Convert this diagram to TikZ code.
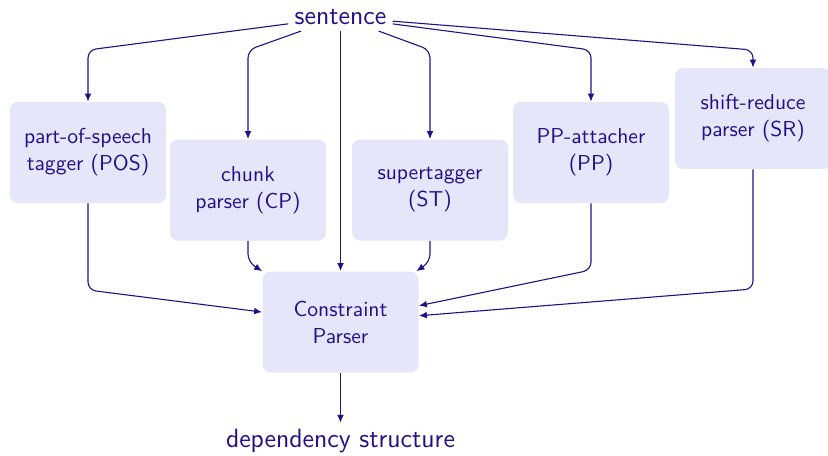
\documentclass[tikz,border=0pt]{standalone}
\usepackage{fontspec}
\usetikzlibrary{arrows.meta}
\definecolor{ink}{RGB}{35,15,135}
\definecolor{boxfill}{RGB}{230,230,250}
\begin{document}
\begin{tikzpicture}[x=0.5pt,y=-0.5pt,
  every node/.style={text=ink,font=\sffamily},
  module/.style={fill=boxfill,rounded corners=4pt,minimum width=78pt,minimum height=50.5pt,
    align=center,inner sep=2pt,font=\sffamily\fontsize{10.8}{13.5}\selectfont},
  endpoint/.style={font=\sffamily\fontsize{13.2}{15}\selectfont,inner sep=3pt},
  link/.style={draw=ink,line width=0.55pt,rounded corners=4pt,-{Latex[length=4pt,width=3.4pt]}}]
\useasboundingbox (0,0) rectangle (828,455);

% input and output
\node[endpoint] (sent) at (340.5,17) {sentence};
\node[endpoint] (dep) at (340.5,441) {dependency structure};

% component parsers
\node[module] (pos) at (88,152.5)  {part-of-speech\\tagger (POS)};
\node[module] (cp)  at (248,190)   {chunk\\parser (CP)};
\node[module] (st)  at (430,190)   {supertagger\\(ST)};
\node[module] (pp)  at (591,152.5) {PP-attacher\\(PP)};
\node[module] (sr)  at (753,118.5) {shift-reduce\\parser (SR)};

% combining parser
\node[module] (cons) at (340.5,322) {Constraint\\Parser};

% bends of the fan-out
\coordinate (tpos) at (88,50);
\coordinate (tcp)  at (248,50);
\coordinate (tst)  at (430,50);
\coordinate (tpp)  at (591,50);
\coordinate (tsr)  at (753,50);

% bends of the fan-in
\coordinate (bpos) at (88,290);
\coordinate (bcp)  at (248,262);
\coordinate (bst)  at (430,262);
\coordinate (bpp)  at (591,270);
\coordinate (bsr)  at (753,289);

\draw[link] (sent) -- (tpos) -- (pos);
\draw[link] (sent) -- (tcp)  -- (cp);
\draw[link] (sent) -- (tst)  -- (st);
\draw[link] (sent) -- (tpp)  -- (pp);
\draw[link] (sent) -- (tsr)  -- (sr);
\draw[link] (sent) -- (cons);

\draw[link] (pos) -- (bpos) -- (cons);
\draw[link] (cp)  -- (bcp)  -- (cons);
\draw[link] (st)  -- (bst)  -- (cons);
\draw[link] (pp)  -- (bpp)  -- (cons);
\draw[link] (sr)  -- (bsr)  -- (cons);

\draw[link] (cons) -- (dep);
\end{tikzpicture}
\end{document}
